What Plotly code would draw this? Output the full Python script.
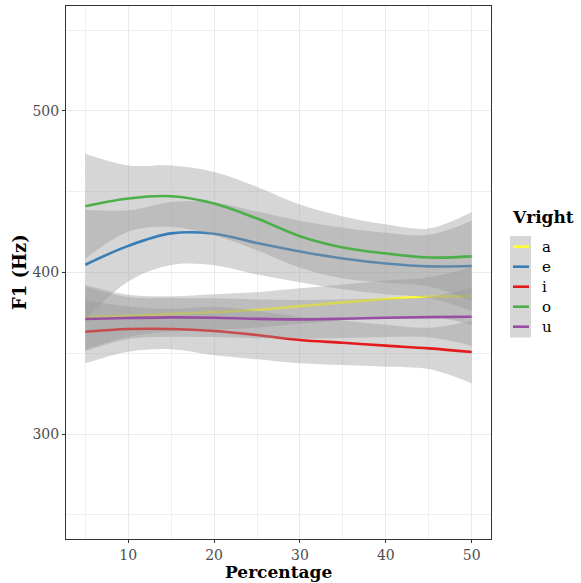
import plotly.graph_objects as go

# Time points (% of vowel duration) and smoothed F1 per following vowel
percentage = [5, 10, 15, 20, 25, 30, 35, 40, 45, 50]
vowels = ["a", "e", "i", "o", "u"]
colors = ["#FFFF33", "#377EB8", "#E41A1C", "#4DAF4A", "#984EA3"]

f1_a = [372.2, 373.2, 374.3, 375.5, 376.8, 379.2, 381.5, 383.6, 385.0, 385.4]
f1_e = [404.8, 416.5, 424.2, 424.0, 418.2, 413.0, 408.7, 405.6, 403.8, 404.0]
f1_i = [363.3, 365.0, 365.0, 363.8, 361.3, 358.2, 356.5, 354.7, 353.0, 350.8]
f1_o = [441.0, 445.8, 447.2, 442.7, 433.4, 422.5, 415.5, 411.8, 409.3, 410.0]
f1_u = [371.2, 371.8, 372.2, 372.0, 371.3, 371.0, 371.4, 372.0, 372.4, 372.6]

# Half-width of the confidence band around each smooth
se_a = [20.0, 13.0, 11.0, 11.0, 11.0, 11.0, 11.0, 11.5, 12.0, 18.0]
se_e = [34.0, 22.0, 19.5, 19.5, 19.5, 19.0, 19.0, 19.0, 19.5, 28.0]
se_i = [19.5, 14.0, 12.5, 15.0, 15.0, 14.4, 13.8, 13.0, 12.8, 19.4]
se_o = [32.5, 20.5, 19.0, 19.6, 19.6, 19.6, 19.2, 18.0, 18.0, 27.5]
se_u = [20.0, 13.0, 12.0, 12.0, 12.0, 12.0, 12.0, 12.0, 12.5, 18.0]

means = [f1_a, f1_e, f1_i, f1_o, f1_u]
halfw = [se_a, se_e, se_i, se_o, se_u]

x_ticks = [10, 20, 30, 40, 50]
y_ticks = [300, 400, 500]

W, H = 581, 583
ML, MR, MT, MB = 66, 90, 6, 44
PW, PH = W - ML - MR, H - MT - MB


def px(xp):
    return (xp - ML) / PW


def py(yp):
    return (H - MB - yp) / PH


band_fill = "rgba(153,153,153,0.4)"
serif = "DejaVu Serif"

fig = go.Figure()
for name, col, m, s in zip(vowels, colors, means, halfw):
    lo = [a - b for a, b in zip(m, s)]
    hi = [a + b for a, b in zip(m, s)]
    fig.add_trace(go.Scatter(x=percentage, y=lo, mode="lines",
                             line=dict(width=0, shape="spline"),
                             showlegend=False, hoverinfo="skip"))
    fig.add_trace(go.Scatter(x=percentage, y=hi, mode="lines",
                             line=dict(width=0, shape="spline"),
                             fill="tonexty", fillcolor=band_fill,
                             showlegend=False, hoverinfo="skip"))
    fig.add_trace(go.Scatter(x=percentage, y=m, mode="lines", name=name,
                             line=dict(color=col, width=2.6, shape="spline"),
                             showlegend=False))

axis_common = dict(
    showgrid=True, gridcolor="#EBEBEB", gridwidth=1,
    zeroline=False, showline=True, mirror=True,
    linecolor="#333333", linewidth=1,
    ticks="outside", ticklen=3, tickcolor="#333333", tickwidth=1,
    tickfont=dict(family=serif, size=14, color="#4D4D4D"),
)

fig.update_xaxes(range=[2.75, 52.25], tickvals=x_ticks,
                 minor=dict(tickvals=[5, 15, 25, 35, 45], showgrid=True,
                            gridcolor="#EFEFEF", gridwidth=0.6, ticks=""),
                 **axis_common)
fig.update_yaxes(range=[235, 565], tickvals=y_ticks,
                 minor=dict(tickvals=[250, 350, 450, 550], showgrid=True,
                            gridcolor="#EFEFEF", gridwidth=0.6, ticks=""),
                 **axis_common)

annotations = [
    dict(text="<b>Percentage</b>", x=px(ML + PW / 2), y=py(572),
         xref="paper", yref="paper", showarrow=False,
         xanchor="center", yanchor="middle",
         font=dict(family=serif, size=17, color="#000000")),
    dict(text="<b>F1 (Hz)</b>", x=px(19), y=py(272),
         xref="paper", yref="paper", showarrow=False, textangle=-90,
         xanchor="center", yanchor="middle",
         font=dict(family=serif, size=18, color="#000000")),
    dict(text="<b>Vright</b>", x=px(510), y=py(217),
         xref="paper", yref="paper", showarrow=False,
         xanchor="left", yanchor="middle",
         font=dict(family=serif, size=17, color="#000000")),
]

shapes = [
    dict(type="rect", xref="paper", yref="paper",
         x0=px(510), x1=px(531), y0=py(236), y1=py(337.5),
         fillcolor="#D6D6D6", line=dict(width=0)),
]
for i, (name, col) in enumerate(zip(vowels, colors)):
    yk = 246.7 + 20 * i
    shapes.append(dict(type="line", xref="paper", yref="paper",
                       x0=px(513), x1=px(529), y0=py(yk), y1=py(yk),
                       line=dict(color=col, width=2.6)))
    annotations.append(dict(text=name, x=px(540), y=py(yk),
                            xref="paper", yref="paper", showarrow=False,
                            xanchor="left", yanchor="middle",
                            font=dict(family=serif, size=15, color="#000000")))

fig.update_layout(
    width=W, height=H,
    margin=dict(l=ML, r=MR, t=MT, b=MB),
    paper_bgcolor="white", plot_bgcolor="white",
    showlegend=False,
    annotations=annotations, shapes=shapes,
)

fig.write_html("out.html")
